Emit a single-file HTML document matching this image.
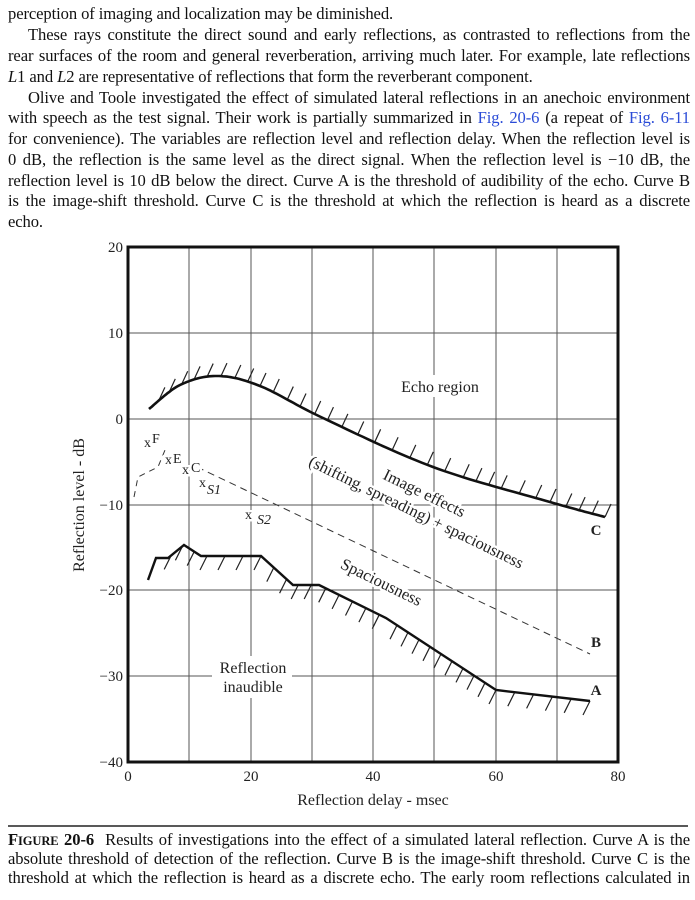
<!DOCTYPE html>
<html><head><meta charset="utf-8"><style>
body{margin:0;width:695px;height:900px;background:#fff;position:relative;overflow:hidden;font-family:"Liberation Serif",serif;color:#111}
.l{position:absolute;left:8px;width:682px;font-size:16.6px;line-height:20px;white-space:nowrap;text-align:justify;text-align-last:justify;letter-spacing:-0.1px}
.in{left:28px;width:662px}
.nl{text-align-last:left}
.b{color:#2a4bd7}
svg{position:absolute;left:0;top:0}
svg text{font-family:"Liberation Serif",serif;fill:#222}
.h{stroke:#fff;stroke-width:5px;paint-order:stroke}
</style></head><body>
<div class="l nl" style="top:4px">perception of imaging and localization may be diminished.</div>
<div class="l in" style="top:25px">These rays constitute the direct sound and early reflections, as contrasted to reflections from the</div>
<div class="l" style="top:46px">rear surfaces of the room and general reverberation, arriving much later. For example, late reflections</div>
<div class="l nl" style="top:67px"><i>L</i>1 and <i>L</i>2 are representative of reflections that form the reverberant component.</div>
<div class="l in" style="top:88px">Olive and Toole investigated the effect of simulated lateral reflections in an anechoic environment</div>
<div class="l" style="top:108px">with speech as the test signal. Their work is partially summarized in <span class="b">Fig. 20-6</span> (a repeat of <span class="b">Fig. 6-11</span></div>
<div class="l" style="top:129px">for convenience). The variables are reflection level and reflection delay. When the reflection level is</div>
<div class="l" style="top:150px">0 dB, the reflection is the same level as the direct signal. When the reflection level is −10 dB, the</div>
<div class="l" style="top:171px">reflection level is 10 dB below the direct. Curve A is the threshold of audibility of the echo. Curve B</div>
<div class="l" style="top:191px">is the image-shift threshold. Curve C is the threshold at which the reflection is heard as a discrete</div>
<div class="l nl" style="top:212px">echo.</div>

<svg id="s" width="695" height="900" xmlns="http://www.w3.org/2000/svg">
<g stroke="#555" stroke-width="1">
<line x1="189" y1="247" x2="189" y2="762"/><line x1="251" y1="247" x2="251" y2="762"/><line x1="312" y1="247" x2="312" y2="762"/><line x1="373" y1="247" x2="373" y2="762"/><line x1="434" y1="247" x2="434" y2="762"/><line x1="496" y1="247" x2="496" y2="762"/><line x1="557" y1="247" x2="557" y2="762"/>
<line x1="128" y1="333" x2="618" y2="333"/><line x1="128" y1="419" x2="618" y2="419"/><line x1="128" y1="505" x2="618" y2="505"/><line x1="128" y1="590" x2="618" y2="590"/><line x1="128" y1="676" x2="618" y2="676"/>
</g>
<rect x="128" y="247" width="490" height="515" fill="none" stroke="#111" stroke-width="3"/>
<g font-size="15" text-anchor="end">
<text x="123" y="252">20</text><text x="123" y="338">10</text><text x="123" y="424">0</text><text x="123" y="510">−10</text><text x="123" y="595">−20</text><text x="123" y="681">−30</text><text x="123" y="767">−40</text>
</g>
<g font-size="15" text-anchor="middle">
<text x="128" y="781">0</text><text x="251" y="781">20</text><text x="373" y="781">40</text><text x="496" y="781">60</text><text x="618" y="781">80</text>
<text x="373" y="805" font-size="16">Reflection delay - msec</text>
<text transform="translate(84,505) rotate(-90)" font-size="16">Reflection level - dB</text>
</g>
<g id="curves"></g>
<rect x="394" y="375" width="92" height="22" fill="#fff"/>
<text x="440" y="392" font-size="16" text-anchor="middle">Echo region</text>
<rect x="212" y="656" width="80" height="42" fill="#fff"/>
<text x="253" y="673" font-size="16" text-anchor="middle">Reflection</text>
<text x="253" y="692" font-size="16" text-anchor="middle">inaudible</text>
<g font-size="15" font-weight="bold" text-anchor="middle"><text x="596" y="535">C</text><text x="596" y="647">B</text><text x="596" y="695">A</text></g>
<g font-size="16.5" text-anchor="middle" class="h">
<text transform="translate(422,498) rotate(26)">Image effects</text>
<text transform="translate(414,517) rotate(26)">(shifting, spreading) + spaciousness</text>
<text transform="translate(379,587) rotate(26)">Spaciousness</text>
</g>
<g font-size="14" class="h">
<text x="144" y="447">x</text><text x="152" y="443">F</text>
<text x="165" y="464">x</text><text x="173" y="463">E</text>
<text x="182" y="474">x</text><text x="191" y="472">C</text>
<text x="199" y="487">x</text><text x="207" y="494" font-style="italic">S1</text>
<text x="245" y="519">x</text><text x="257" y="524" font-style="italic">S2</text>
</g>
<line x1="8" y1="826" x2="688" y2="826" stroke="#222" stroke-width="1.5"/>
</svg>
<div class="l" style="top:830px"><b>F<span style="font-size:12.5px">IGURE</span> 20-6</b>&nbsp;&nbsp;Results of investigations into the effect of a simulated lateral reflection. Curve A is the</div>
<div class="l" style="top:849px">absolute threshold of detection of the reflection. Curve B is the image-shift threshold. Curve C is the</div>
<div class="l" style="top:868px">threshold at which the reflection is heard as a discrete echo. The early room reflections calculated in</div>
<script>
(function(){
var g=document.getElementById('curves'),NS='http://www.w3.org/2000/svg';
function el(t,a){var e=document.createElementNS(NS,t);for(var k in a)e.setAttribute(k,a[k]);g.appendChild(e);return e;}
function cr(P,n){var o=[];for(var i=0;i<P.length-1;i++){var p0=P[Math.max(i-1,0)],p1=P[i],p2=P[i+1],p3=P[Math.min(i+2,P.length-1)];for(var k=0;k<n;k++){var t=k/n,t2=t*t,t3=t2*t;o.push([0.5*((2*p1[0])+(-p0[0]+p2[0])*t+(2*p0[0]-5*p1[0]+4*p2[0]-p3[0])*t2+(-p0[0]+3*p1[0]-3*p2[0]+p3[0])*t3),0.5*((2*p1[1])+(-p0[1]+p2[1])*t+(2*p0[1]-5*p1[1]+4*p2[1]-p3[1])*t2+(-p0[1]+3*p1[1]-3*p2[1]+p3[1])*t3)]);}}o.push(P[P.length-1]);return o;}
function pts(a){return a.map(function(p){return p[0].toFixed(1)+','+p[1].toFixed(1)}).join(' ');}
function hatch(a,step,dx,dy){var acc=0;for(var i=1;i<a.length;i++){var d=Math.hypot(a[i][0]-a[i-1][0],a[i][1]-a[i-1][1]);acc+=d;if(acc>=step){acc=0;el('line',{x1:a[i][0],y1:a[i][1],x2:a[i][0]+dx,y2:a[i][1]+dy,stroke:'#222','stroke-width':1.2});}}}
var C=cr([[149,409],[180,385],[217,376],[260,386],[323,418],[433,467],[550,502],[605,517]],20);
hatch(C,13,6,-13);
el('polyline',{points:pts(C),fill:'none',stroke:'#111','stroke-width':2.6});
var Ap=[[148,580],[156,558],[168,558],[184,545],[201,556],[261,556],[293,585],[319,585],[386,618],[496,690],[590,701]];
var A=[];for(var i=0;i<Ap.length-1;i++){for(var k=0;k<10;k++){var t=k/10;A.push([Ap[i][0]+(Ap[i+1][0]-Ap[i][0])*t,Ap[i][1]+(Ap[i+1][1]-Ap[i][1])*t]);}}A.push(Ap[Ap.length-1]);
hatch(A.slice(12),13,-7,14);
el('polyline',{points:pts(Ap),fill:'none',stroke:'#111','stroke-width':2.4});
el('polyline',{points:'134,497 138,477 158,467 165,450',fill:'none',stroke:'#333','stroke-width':1,'stroke-dasharray':'6,5'});
el('polyline',{points:'197,467 590,654',fill:'none',stroke:'#333','stroke-width':1,'stroke-dasharray':'7,5'});
})();
</script>
</body></html>
